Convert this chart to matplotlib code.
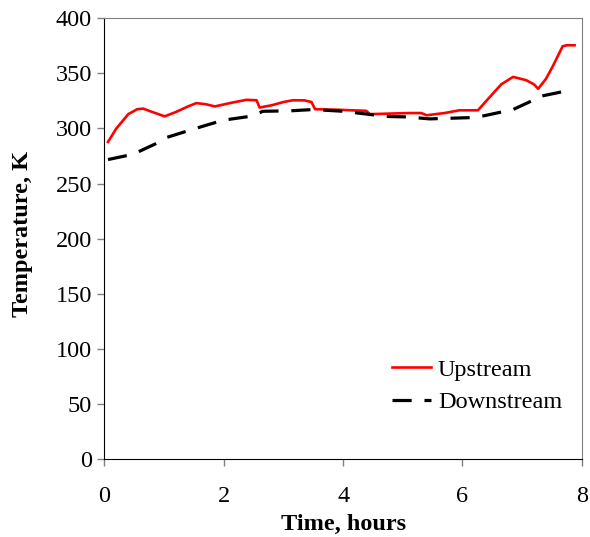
import matplotlib
matplotlib.use('Agg')
import matplotlib.pyplot as plt

# Upstream temperature (red line)
up_time = [0.06, 0.2, 0.4, 0.55, 0.65, 0.8, 1.01, 1.2, 1.4, 1.54, 1.7, 1.85, 2.1, 2.38,
           2.55, 2.60, 2.8, 3.0, 3.16, 3.35, 3.47, 3.53, 3.9, 4.39, 4.45, 4.78, 5.1,
           5.31, 5.40, 5.7, 5.95, 6.26, 6.45, 6.65, 6.85, 7.07, 7.2, 7.27, 7.4, 7.52,
           7.68, 7.75, 7.88]
up_temp = [287.8, 300, 313, 317.5, 318, 315, 311, 315, 320, 323, 322, 320, 323, 326,
           325.6, 319, 321, 324, 325.6, 325.5, 324, 317.5, 317, 316, 313, 313.5, 314,
           314, 312, 314, 316.5, 316.5, 328, 340, 346.8, 343.8, 340, 336, 345, 357,
           374.6, 375.5, 375.5]

# Downstream temperature (black dashed line)
down_time = [0.06, 0.48, 0.87, 1.04, 1.43, 1.71, 1.99, 2.44, 2.66, 3.11, 3.50, 4.0,
             4.56, 4.67, 5.06, 5.45, 6.23, 6.85, 7.24, 7.29, 7.85]
down_temp = [271.8, 276.6, 286.4, 291.8, 298.4, 303, 307.5, 311, 315.6, 316, 317.2, 315.6,
             312, 311, 310.5, 308.7, 310, 317.2, 327, 329, 335.3]

x_ticks = [0, 2, 4, 6, 8]
y_ticks = [0, 50, 100, 150, 200, 250, 300, 350, 400]

plt.rcParams['font.family'] = ['Liberation Serif', 'DejaVu Serif']

fig = plt.figure(figsize=(5.9, 5.37), dpi=100)
ax = fig.add_axes([0.177, 0.145, 0.809, 0.821])

ax.plot(up_time, up_temp, color='#ff0000', lw=1.9, label='Upstream')
ax.plot(down_time, down_temp, color='black', lw=2.3, dashes=(6, 4), label='Downstream')

ax.set_xlim(0, 8)
ax.set_ylim(0, 400)
ax.set_xticks(x_ticks)
ax.set_yticks(y_ticks)
ax.tick_params(direction='out', length=5, width=1, color='#808080', labelsize=17.5, pad=4)
ax.tick_params(axis='x', pad=14)

for s in ['top', 'right']:
    ax.spines[s].set_color('#808080')
for s in ['left', 'bottom']:
    ax.spines[s].set_color('black')

ax.set_xlabel('Time, hours', fontsize=17.5, fontweight='bold', labelpad=5)
ax.set_ylabel('Temperature, K', fontsize=17.5, fontweight='bold')
ax.yaxis.set_label_coords(-0.15, 0.51)

ax.legend(loc='lower right', bbox_to_anchor=(1.005, 0.055), frameon=False, fontsize=17.5,
          handlelength=1.6, handletextpad=0.3, labelspacing=0.42)

fig.savefig('out.png', dpi=100)
